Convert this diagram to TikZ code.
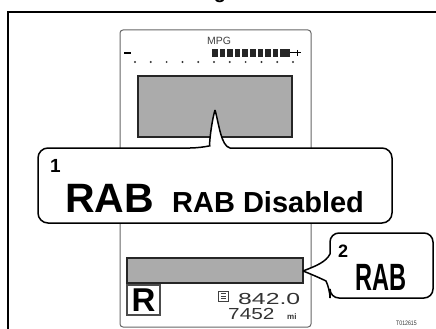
\documentclass[tikz,border=0pt]{standalone}
\usepackage{fontspec}
\setmainfont{Liberation Sans}
\usepackage{graphicx}
\usepackage{tikz}
\usetikzlibrary{positioning,calc}

\begin{document}
\begin{tikzpicture}[
  x=1pt, y=-1pt,
  frame/.style={draw=black, line width=2.2pt},
  panel/.style={draw=black!60, line width=1pt, rounded corners=3pt},
  bar/.style={draw=black!85, fill=black!33, line width=1.3pt},
  callout/.style={draw=black, fill=white, line width=1.5pt},
  txt/.style={inner sep=0pt, anchor=base west},
  big/.style={txt, font=\fontsize{41}{41}\selectfont\bfseries},
  mid/.style={txt, font=\fontsize{29}{29}\selectfont\bfseries},
  num/.style={txt, font=\fontsize{19}{19}\selectfont\bfseries},
  lcd/.style={txt, font=\fontsize{16}{16}\selectfont, text=black!80},
]
\useasboundingbox (0,0) rectangle (436,329);

\def\rS{53}   % scale row
\def\rD{62}   % dot row

% ============ frame and heading ============================================
\node[inner sep=0pt, anchor=south, font=\fontsize{20}{20}\selectfont\bfseries]
  (head) at (220,3) {g};
\draw[frame] (8,340) -- (8,12) -- (445,12);

% ============ display panel ================================================
\draw[panel] (120,327) -- (120,30) -- (311,30) -- (311,327) -- cycle;

\node[inner sep=0pt, font=\fontsize{10.5}{10.5}\selectfont, text=black!75]
  (mpg) at (219,41) {MPG};
\draw[line width=1.2pt] (124,\rS) -- (131,\rS);
\foreach \i in {0,...,8}
  \fill[black!85] (212+7.6*\i,49) rectangle (217.5+7.6*\i,57);
\fill[black!85] (280.4,49) rectangle (290,57);
\draw[line width=1pt] (290,\rS) -- (301,\rS) (297,50) -- (297,56);
\foreach \i in {0,...,10}
  \fill[black!80] (135+15.8*\i,\rD) circle (1.1pt);

\draw[bar] (138,76) rectangle (292,137);
\draw[bar] (127,258) rectangle (303,283);

% ============ lower display ================================================
\draw[draw=black!70, line width=1.5pt] (127,285) rectangle (160,315);
\node[inner sep=0pt, font=\fontsize{33}{33}\selectfont\bfseries]
  (rng) at (143.5,300) {R};
\draw[draw=black!75, line width=1pt] (218,291) rectangle (228,301);
\draw[draw=black!75, line width=0.8pt] (220.5,293.5) -- (225.5,293.5)
  (220.5,296) -- (225.5,296) (220.5,298.5) -- (225.5,298.5);
\node[lcd] (odo) at (238,304) {\scalebox{1.55}[1]{842.0}};
\node[lcd] (trip) at (228,319) {\scalebox{1.3}[1]{7452}};
\node[txt, font=\fontsize{8}{8}\selectfont\bfseries, text=black!80]
  (unit) at (287,319) {mi};

% ============ callout 1 ====================================================
\draw[callout] (215,110) .. controls (219,124) and (221,146) .. (230,148)
  [rounded corners=10pt] -- (392,148) -- (392,223) -- (38,223) -- (38,148)
  -- (200,148) [sharp corners] .. controls (209,146) and (211,124) .. (215,110);
\node[txt, font=\fontsize{19}{19}\selectfont\bfseries] (n1) at (50,172) {1};
\node[big] (rab1) at (65,212) {RAB};
\node[mid] (dis) at (172,212) {RAB Disabled};

% ============ callout 2 ====================================================
\draw[callout] (303,271) .. controls (316,266) and (326,262) .. (330,254)
  [rounded corners=9pt] -- (330,233) -- (433,233) -- (433,298) -- (330,298)
  -- (330,289) [sharp corners] .. controls (326,281) and (316,276) .. (303,271);
\node[txt, font=\fontsize{18}{18}\selectfont\bfseries] (n2) at (338,257) {2};
\node[txt, font=\fontsize{38}{38}\selectfont\bfseries]
  (rab2) at (355,290) {\scalebox{0.62}[1]{RAB}};

% ============ figure code ==================================================
\node[txt, font=\fontsize{6.5}{6.5}\selectfont, text=black!80]
  (code) at (396,325) {\scalebox{0.8}[1]{T012615}};

\end{tikzpicture}
\end{document}
